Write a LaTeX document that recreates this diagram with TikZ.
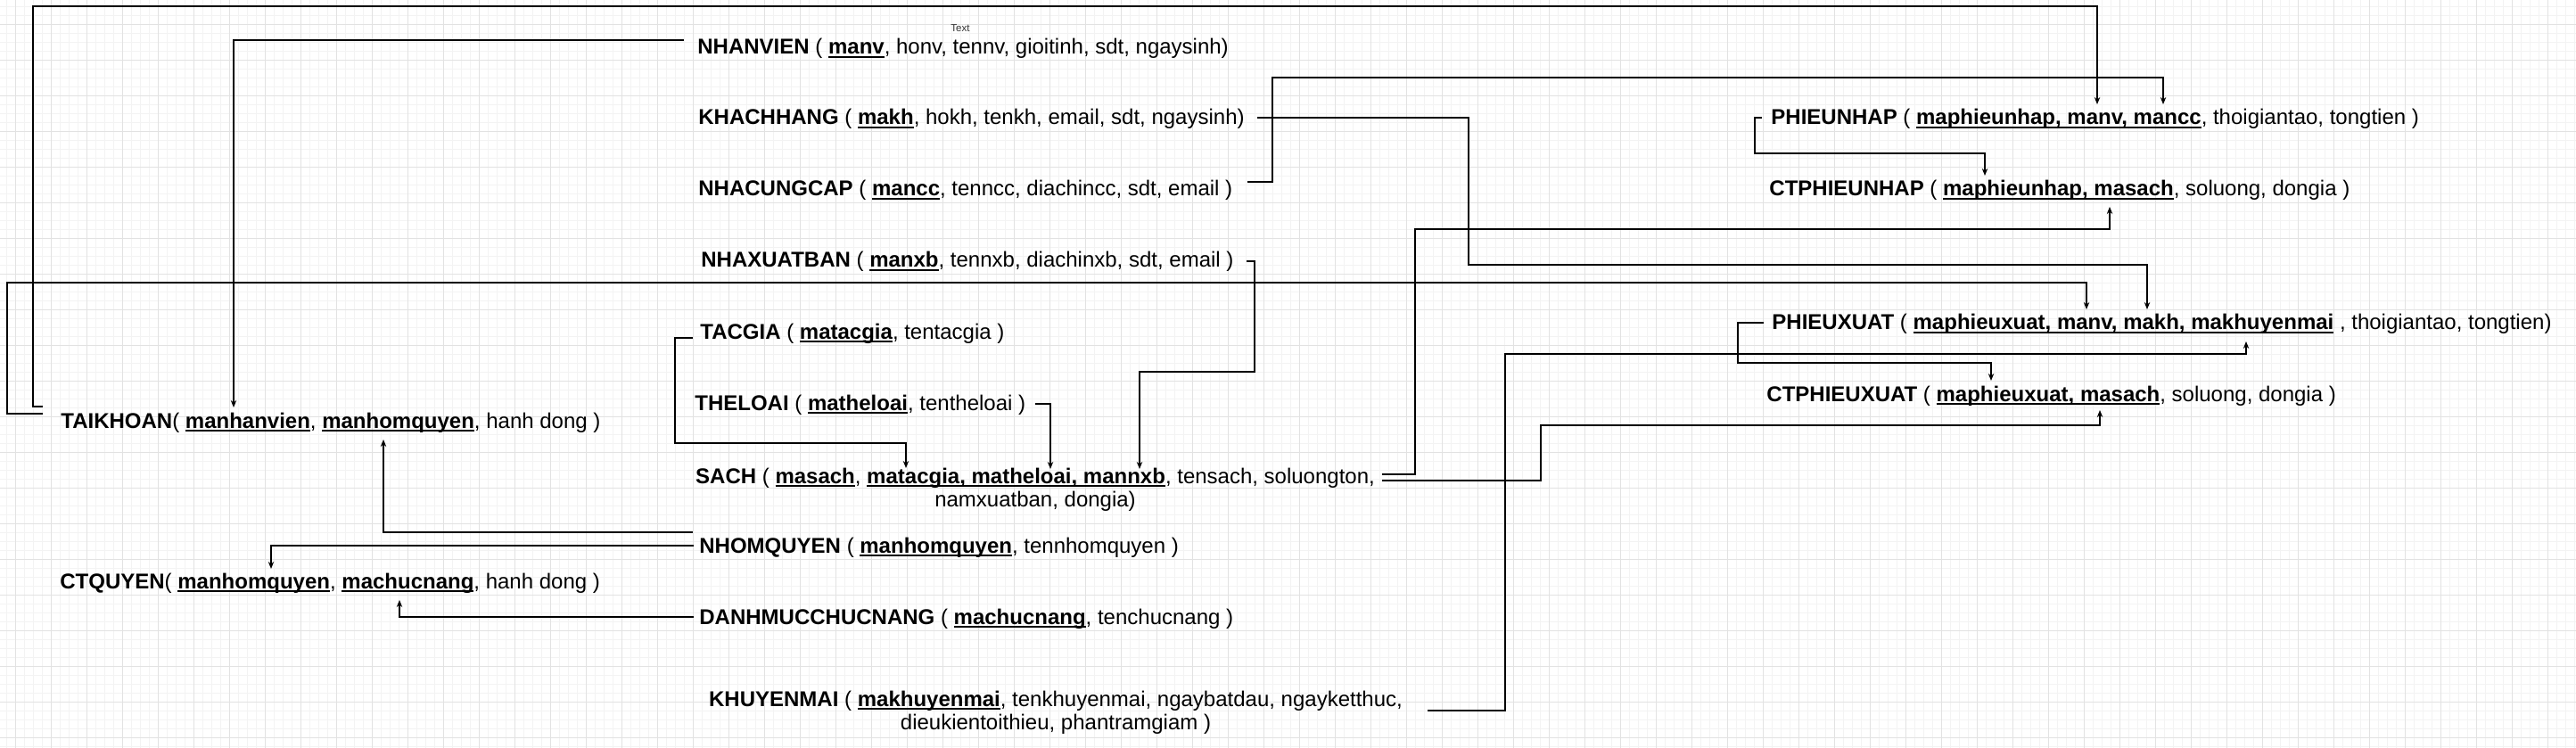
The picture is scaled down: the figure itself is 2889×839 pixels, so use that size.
\documentclass[tikz,border=0pt]{standalone}
\usepackage{fontspec}
\setmainfont{Liberation Sans}
\usetikzlibrary{calc,arrows.meta,positioning}

\definecolor{gridMinor}{HTML}{F3F3F3}
\definecolor{gridMajor}{HTML}{E2E2E2}

\newcommand{\ukey}[1]{\leavevmode\setbox0\hbox{#1}\rlap{\rule[-1.9pt]{\wd0}{0.8pt}}\box0}

\tikzset{
        tbl/.style={anchor=base west, inner sep=0pt, font=\fontsize{12}{13}\selectfont},
        tblTwo/.style={anchor=north, inner sep=0pt, align=center, font=\fontsize{12}{13}\selectfont},
        fk/.style={draw=black, line width=0.75pt, -{Stealth[length=4pt,width=3.2pt]}},
        gridLine/.style={line width=0.5pt}
}

\begin{document}
\begin{tikzpicture}[x=0.5pt, y=-0.5pt]
        \useasboundingbox (0,0) rectangle (2889,839);
        \fill[white] (0,0) rectangle (2889,839);
        \foreach \g in {0,...,288} \draw[gridLine, gridMinor] (7.3+10*\g,0) -- (7.3+10*\g,839);
        \foreach \g in {0,...,83} \draw[gridLine, gridMinor] (0,7.3+10*\g) -- (2889,7.3+10*\g);
        \foreach \g in {0,...,71} \draw[gridLine, gridMajor] (17.3+40*\g,0) -- (17.3+40*\g,839);
        \foreach \g in {0,...,20} \draw[gridLine, gridMajor] (0,27.3+40*\g) -- (2889,27.3+40*\g);

        \node[font=\fontsize{5.75}{7}\selectfont, text=black!80, inner sep=0pt] (nTextLbl) at (1077,32) {Text};

        \node[tbl] (nNhanVien) at (782,61) {\textbf{NHANVIEN} ( \textbf{\ukey{manv}}, honv, tennv, gioitinh, sdt, ngaysinh)};
        \node[tbl] (nKhachHang) at (783,140) {\textbf{KHACHHANG} ( \textbf{\ukey{makh}}, hokh, tenkh, email, sdt, ngaysinh)};
        \node[tbl] (nNhaCungCap) at (783,220) {\textbf{NHACUNGCAP} ( \textbf{\ukey{mancc}}, tenncc, diachincc, sdt, email )};
        \node[tbl] (nNhaXuatBan) at (786,300) {\textbf{NHAXUATBAN} ( \textbf{\ukey{manxb}}, tennxb, diachinxb, sdt, email )};
        \node[tbl] (nTacGia) at (785,380) {\textbf{TACGIA} ( \textbf{\ukey{matacgia}}, tentacgia )};
        \node[tbl] (nTheLoai) at (779,460) {\textbf{THELOAI} ( \textbf{\ukey{matheloai}}, tentheloai )};
        \node[tblTwo] (nSach) at (1161,524.5) {\textbf{SACH} ( \textbf{\ukey{masach}}, \textbf{\ukey{matacgia, matheloai, mannxb}}, tensach, soluongton,\\ namxuatban, dongia)};
        \node[tbl] (nNhomQuyen) at (784,620) {\textbf{NHOMQUYEN} ( \textbf{\ukey{manhomquyen}}, tennhomquyen )};
        \node[tbl] (nDanhMuc) at (784,700) {\textbf{DANHMUCCHUCNANG} ( \textbf{\ukey{machucnang}}, tenchucnang )};
        \node[tblTwo] (nKhuyenMai) at (1184,774.5) {\textbf{KHUYENMAI} ( \textbf{\ukey{makhuyenmai}}, tenkhuyenmai, ngaybatdau, ngayketthuc,\\ dieukientoithieu, phantramgiam )};

        \node[tbl] (nTaiKhoan) at (68,480) {\textbf{TAIKHOAN}( \textbf{\ukey{manhanvien}}, \textbf{\ukey{manhomquyen}}, hanh dong )};
        \node[tbl] (nCtQuyen) at (67,660) {\textbf{CTQUYEN}( \textbf{\ukey{manhomquyen}}, \textbf{\ukey{machucnang}}, hanh dong )};

        \node[tbl] (nPhieuNhap) at (1986,140) {\textbf{PHIEUNHAP} ( \textbf{\ukey{maphieunhap, manv, mancc}}, thoigiantao, tongtien )};
        \node[tbl] (nCtPhieuNhap) at (1984,220) {\textbf{CTPHIEUNHAP} ( \textbf{\ukey{maphieunhap, masach}}, soluong, dongia )};
        \node[tbl] (nPhieuXuat) at (1987,370) {\textbf{PHIEUXUAT} ( \textbf{\ukey{maphieuxuat, manv, makh, makhuyenmai}} , thoigiantao, tongtien)};
        \node[tbl] (nCtPhieuXuat) at (1981,450) {\textbf{CTPHIEUXUAT} ( \textbf{\ukey{maphieuxuat, masach}}, soluong, dongia )};

        \coordinate (cNvOutPt) at ($(nNhanVien.base west)+(-15,-16)$);
        \coordinate (cTkPnOutPt) at ($(nTaiKhoan.base west)+(-20,-24)$);
        \coordinate (cTkPxOutPt) at ($(nTaiKhoan.base west)+(-20,-16)$);
        \coordinate (cKhOutPt) at ($(nKhachHang.base east)+(14,-8)$);
        \coordinate (cNccOutPt) at ($(nNhaCungCap.base east)+(16,-16)$);
        \coordinate (cNxbOutPt) at ($(nNhaXuatBan.base east)+(14,-7)$);
        \coordinate (cTgOutPt) at ($(nTacGia.base west)+(-8,-1)$);
        \coordinate (cTlOutPt) at ($(nTheLoai.base east)+(10,-7)$);
        \coordinate (cSaPnOutPt) at ($(nSach.north east)+(8,7.5)$);
        \coordinate (cSaPxOutPt) at ($(nSach.north east)+(8,14.5)$);
        \coordinate (cNqTkOutPt) at ($(nNhomQuyen.base west)+(-7,-23)$);
        \coordinate (cNqCqOutPt) at ($(nNhomQuyen.base west)+(-6,-8)$);
        \coordinate (cCnOutPt) at ($(nDanhMuc.base west)+(-6,-8)$);
        \coordinate (cKmOutPt) at ($(nKhuyenMai.north east)+(28,22.5)$);
        \coordinate (cPnOutPt) at ($(nPhieuNhap.base west)+(-10,-8)$);
        \coordinate (cPxOutPt) at ($(nPhieuXuat.base west)+(-9,-8)$);

        \coordinate (cTkNvPt) at (262,457);
        \coordinate (cTkNqPt) at (430,493);
        \coordinate (cCqNqPt) at (304,638);
        \coordinate (cCqCnPt) at (448,673);
        \coordinate (cSaTgPt) at (1016,525);
        \coordinate (cSaTlPt) at (1178,526);
        \coordinate (cSaXbPt) at (1278,526);
        \coordinate (cPnNvPt) at (2352,117);
        \coordinate (cPnNccPt) at (2426,117);
        \coordinate (cCtpnPnPt) at (2226,197);
        \coordinate (cCtpnSaPt) at (2366,232);
        \coordinate (cPxNvPt) at (2340,347);
        \coordinate (cPxKhPt) at (2408,347);
        \coordinate (cPxKmPt) at (2519,383);
        \coordinate (cCtpxPxPt) at (2233,427);
        \coordinate (cCtpxSaPt) at (2355,460);

        \foreach \s/\bx/\by/\e in
        {cTkPnOutPt/37/7/cPnNvPt,
            cTkPxOutPt/8/317/cPxNvPt,
            cKhOutPt/1647/297/cPxKhPt,
            cNccOutPt/1427/87/cPnNccPt,
            cPnOutPt/1968/172/cCtpnPnPt,
            cSaPnOutPt/1587/257/cCtpnSaPt,
            cSaPxOutPt/1728/477/cCtpxSaPt,
            cKmOutPt/1688/397/cPxKmPt,
            cPxOutPt/1949/407/cCtpxPxPt,
            cNxbOutPt/1407/417/cSaXbPt,
            cTgOutPt/757/497/cSaTgPt}
        {
            \draw[fk] (\s) -| (\bx,\by) -| (\e);
        };

        \foreach \s/\e in
        {cNvOutPt/cTkNvPt,
            cTlOutPt/cSaTlPt,
            cNqTkOutPt/cTkNqPt,
            cNqCqOutPt/cCqNqPt,
            cCnOutPt/cCqCnPt}
        {
            \draw[fk] (\s) -| (\e);
        };

\end{tikzpicture}
\end{document}
